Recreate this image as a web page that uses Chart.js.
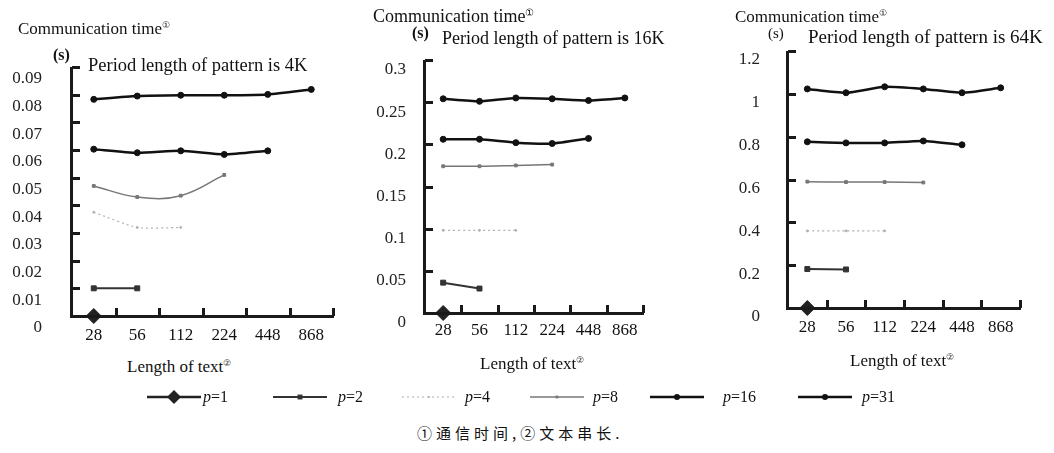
<!DOCTYPE html>
<html>
<head>
<meta charset="utf-8">
<script src="https://cdn.jsdelivr.net/npm/chart.js@4"></script>
<style>
  html, body { margin: 0; padding: 0; background: #fff; }
  body { width: 1054px; height: 453px; position: relative; overflow: hidden;
         font-family: "Liberation Serif", "Times New Roman", serif; color: #111; }
  canvas.chart { position: absolute; top: 0; }
  .txt { position: absolute; white-space: nowrap; line-height: 20px; height: 20px; margin-top: -10px; }
  .txt sup { font-size: 0.55em; vertical-align: 0.6em; }
  .cap { font-family: "Noto Sans CJK SC", sans-serif; font-size: 15px; letter-spacing: 4px; }
</style>
</head>
<body>
<canvas id="c1" class="chart" width="345" height="350" style="left:0px"></canvas>
<canvas id="c2" class="chart" width="300" height="350" style="left:360px"></canvas>
<canvas id="c3" class="chart" width="334" height="350" style="left:720px"></canvas>

<div class="txt" style="left:18px;top:25px;font-size:17px">Communication time<sup>①</sup></div>
<div class="txt" style="left:373px;top:13px;font-size:18px">Communication time<sup>①</sup></div>
<div class="txt" style="left:735px;top:13px;font-size:17px">Communication time<sup>①</sup></div>

<div class="txt" style="left:53px;top:55px;font-size:16px;font-weight:bold">(s)</div>
<div class="txt" style="left:412px;top:33px;font-size:16px;font-weight:bold">(s)</div>
<div class="txt" style="left:768px;top:33px;font-size:15px">(s)</div>

<div class="txt" style="left:88px;top:65px;font-size:18.5px">Period length of pattern is 4K</div>
<div class="txt" style="left:442px;top:38px;font-size:18px">Period length of pattern is 16K</div>
<div class="txt" style="left:808px;top:37px;font-size:19px">Period length of pattern is 64K</div>

<div class="txt" style="left:127px;top:363px;font-size:17px">Length of text<sup>②</sup></div>
<div class="txt" style="left:480px;top:360px;font-size:17px">Length of text<sup>②</sup></div>
<div class="txt" style="left:850px;top:357px;font-size:17px">Length of text<sup>②</sup></div>

<div id="legendBox"></div>
<div class="txt cap" style="left:417px;top:433px">①通信时间,②文本串长.</div>

<script>
// categories (length of text) and series names
const categories = ['28', '56', '112', '224', '448', '868'];
const seriesNames = ['p=1', 'p=2', 'p=4', 'p=8', 'p=16', 'p=31'];

// period length 4K
const k4_p1 = [0];
const k4_p2 = [0.010, 0.010];
const k4_p4 = [0.0375, 0.032, 0.032];
const k4_p8 = [0.047, 0.043, 0.0435, 0.051];
const k4_p16 = [0.0603, 0.059, 0.0597, 0.0584, 0.0597];
const k4_p31 = [0.0783, 0.0795, 0.0798, 0.0798, 0.0801, 0.0819];
const k4_ticks = ['0', '0.01', '0.02', '0.03', '0.04', '0.05', '0.06', '0.07', '0.08', '0.09'];

// period length 16K
const k16_p1 = [0];
const k16_p2 = [0.036, 0.029];
const k16_p4 = [0.098, 0.098, 0.098];
const k16_p8 = [0.174, 0.174, 0.175, 0.176];
const k16_p16 = [0.206, 0.206, 0.202, 0.201, 0.207];
const k16_p31 = [0.254, 0.251, 0.255, 0.254, 0.252, 0.255];
const k16_ticks = ['0', '0.05', '0.1', '0.15', '0.2', '0.25', '0.3'];

// period length 64K
const k64_p1 = [0];
const k64_p2 = [0.182, 0.18];
const k64_p4 = [0.36, 0.36, 0.36];
const k64_p8 = [0.59, 0.588, 0.588, 0.586];
const k64_p16 = [0.776, 0.771, 0.771, 0.78, 0.762];
const k64_p31 = [1.023, 1.005, 1.033, 1.023, 1.005, 1.028];
const k64_ticks = ['0', '0.2', '0.4', '0.6', '0.8', '1', '1.2'];

// line styles per series
const styles = [
  { color: '#222', width: 2.5, dash: [], point: 'rectRot', radius: 7.5, tension: 0 },
  { color: '#333', width: 2, dash: [], point: 'rect', radius: 3.5, tension: 0 },
  { color: '#b0b0b0', width: 1.2, dash: [2, 3], point: 'circle', radius: 1, tension: 0.2 },
  { color: '#777', width: 1.5, dash: [], point: 'rect', radius: 2, tension: 0.4 },
  { color: '#111', width: 2.5, dash: [], point: 'circle', radius: 3, tension: 0.2 },
  { color: '#111', width: 2.5, dash: [], point: 'circle', radius: 3, tension: 0.2 }
];

function makeSets(all) {
  return all.map((vals, i) => ({
    label: seriesNames[i],
    data: vals,
    borderColor: styles[i].color,
    backgroundColor: styles[i].color,
    borderWidth: styles[i].width,
    borderDash: styles[i].dash,
    pointStyle: styles[i].point,
    pointRadius: styles[i].radius,
    pointBorderWidth: 1,
    tension: styles[i].tension,
    clip: false
  }));
}

// axis lines and short tick marks pointing into the plot
const axisPlugin = {
  id: 'axisPlugin',
  afterDatasetsDraw(chart) {
    const ctx = chart.ctx;
    const a = chart.chartArea;
    const x = chart.scales.x, y = chart.scales.y;
    ctx.save();
    ctx.fillStyle = '#1a1a1a';
    ctx.fillRect(a.left - 2, a.top, 3, a.bottom - a.top + 1);
    ctx.fillRect(a.left - 2, a.bottom - 1, a.right - a.left + 3, 3);
    y.ticks.forEach((t) => {
      const py = Math.round(y.getPixelForValue(t.value));
      ctx.fillRect(a.left, py - 1, 8, 3);
    });
    for (let i = 0; i < categories.length; i++) {
      const px = Math.round(x.getPixelForValue(i + 0.5));
      ctx.fillRect(px - 1, a.bottom - 8, 3, 8);
    }
    ctx.restore();
  }
};

function drawChart(id, sets, max, step, tickLabels, lay) {
  new Chart(document.getElementById(id), {
    type: 'line',
    data: { labels: categories, datasets: makeSets(sets) },
    options: {
      responsive: false,
      animation: false,
      devicePixelRatio: 1,
      layout: { padding: { top: lay.top, right: lay.right, left: 0, bottom: 0 } },
      plugins: { legend: { display: false }, tooltip: { enabled: false } },
      scales: {
        x: {
          offset: true,
          grid: { display: false, drawTicks: false },
          border: { display: false },
          ticks: { color: '#111', padding: lay.xPad, font: { family: 'Liberation Serif', size: 17 } },
          afterFit(s) { s.height = lay.xh; s.paddingLeft = 0; s.paddingRight = 0; }
        },
        y: {
          min: 0, max: max,
          grid: { display: false, drawTicks: false },
          border: { display: false },
          ticks: {
            stepSize: step,
            color: '#222',
            padding: lay.yPad,
            labelOffset: lay.off,
            font: { family: 'Liberation Serif', size: 17 },
            callback: (v, i) => tickLabels[i]
          },
          afterFit(s) { s.width = lay.yw; s.paddingTop = 0; s.paddingBottom = 0; }
        }
      }
    },
    plugins: [axisPlugin]
  });
}

drawChart('c1', [k4_p1, k4_p2, k4_p4, k4_p8, k4_p16, k4_p31], 0.09, 0.01, k4_ticks,
  { top: 67, right: 12, xh: 34, yw: 72, yPad: 30, xPad: 9, off: 12 });
drawChart('c2', [k16_p1, k16_p2, k16_p4, k16_p8, k16_p16, k16_p31], 0.3, 0.05, k16_ticks,
  { top: 60, right: 17, xh: 37, yw: 65, yPad: 19, xPad: 7, off: 10 });
drawChart('c3', [k64_p1, k64_p2, k64_p4, k64_p8, k64_p16, k64_p31], 1.2, 0.2, k64_ticks,
  { top: 51, right: 34, xh: 42, yw: 68, yPad: 28, xPad: 9, off: 9 });

// legend built from the same series styles
const legendLine = [147, 273, 402, 530, 650, 798];
const legendText = [203, 338, 465, 593, 723, 862];
const legendBox = document.getElementById('legendBox');
seriesNames.forEach((name, i) => {
  const st = styles[i];
  const cv = document.createElement('canvas');
  cv.width = 56; cv.height = 18;
  cv.style.cssText = 'position:absolute;left:' + legendLine[i] + 'px;top:388px';
  const g = cv.getContext('2d');
  g.strokeStyle = st.color; g.fillStyle = st.color;
  g.lineWidth = st.width; g.setLineDash(st.dash);
  g.beginPath(); g.moveTo(0, 9); g.lineTo(54, 9); g.stroke();
  g.setLineDash([]);
  const r = Math.min(st.radius, 7);
  g.beginPath();
  if (st.point === 'rectRot') { g.moveTo(27, 9 - r); g.lineTo(27 + r, 9); g.lineTo(27, 9 + r); g.lineTo(27 - r, 9); g.closePath(); }
  else if (st.point === 'rect') { g.rect(27 - r * 0.7, 9 - r * 0.7, r * 1.4, r * 1.4); }
  else { g.arc(27, 9, r, 0, Math.PI * 2); }
  g.fill();
  legendBox.appendChild(cv);
  const tx = document.createElement('div');
  tx.className = 'txt';
  tx.style.cssText = 'left:' + legendText[i] + 'px;top:397px;font-size:16px';
  tx.innerHTML = '<i>p</i>' + name.slice(1);
  legendBox.appendChild(tx);
});
</script>
</body>
</html>
